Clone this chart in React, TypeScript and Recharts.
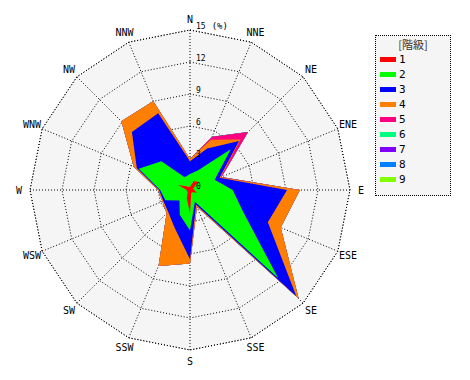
import { RadarChart, PolarGrid, PolarAngleAxis, PolarRadiusAxis, Radar, Legend } from 'recharts';

const directions = ['N', 'NNE', 'NE', 'ENE', 'E', 'ESE', 'SE', 'SSE', 'S', 'SSW', 'SW', 'WSW', 'W', 'WNW', 'NW', 'NNW'];

// frequency (%) per class, by direction
const class1 = [0.3, 0.9, 1.1, 0.3, 0.4, 0.7, 0.3, 0.3, 2.2, 0.8, 0.3, 0.3, 0.3, 1.2, 0.5, 0.3];
const class2 = [1.2, 1.1, 4.3, 2.2, 3.6, 4.7, 11.4, 0.9, 1.6, 1.7, 1.1, 2.2, 2.5, 4.0, 3.3, 1.0];
const class3 = [1.2, 2.2, 1.1, 0.5, 5.1, 2.5, 2.4, 0.3, 2.7, 1.3, 1.5, 0.2, 0.1, 0.2, 3.9, 6.5];
const class4 = [0.2, 0.9, 0.2, 0.1, 1.2, 1.3, 0.3, 0.2, 0.4, 3.9, 0.2, 0.1, 0.1, 0.3, 1.4, 1.2];
const class5 = [0, 0.3, 1.0, 0.1, 0, 0, 0, 0, 0, 0, 0, 0, 0, 0, 0, 0];
const class6 = [0, 0, 0, 0, 0, 0, 0, 0, 0, 0, 0, 0, 0, 0, 0, 0];
const class7 = [0, 0, 0, 0, 0, 0, 0, 0, 0, 0, 0, 0, 0, 0, 0, 0];
const class8 = [0, 0, 0, 0, 0, 0, 0, 0, 0, 0, 0, 0, 0, 0, 0, 0];
const class9 = [0, 0, 0, 0, 0, 0, 0, 0, 0, 0, 0, 0, 0, 0, 0, 0];

const classNames = ['1', '2', '3', '4', '5', '6', '7', '8', '9'];
const classColors = ['#ff0000', '#00ff00', '#0000ff', '#ff8000', '#ff0080', '#00ff80', '#8000ff', '#0080ff', '#80ff00'];
const radiusTicks = [0, 3, 6, 9, 12, 15];

const series = [class1, class2, class3, class4, class5, class6, class7, class8, class9];

// stacked (cumulative) values so each class sits on top of the lower ones
const data = directions.map((dir, i) => {
  const row: Record<string, string | number> = { dir };
  let sum = 0;
  series.forEach((values, k) => {
    sum += values[i];
    row[`c${k + 1}`] = Math.round(sum * 100) / 100;
  });
  return row;
});

const FONT = "'DejaVu Sans Mono', monospace";
const CJK = "'Noto Sans CJK JP', 'DejaVu Sans Mono', sans-serif";
const CX = 190;
const CY = 190;

const AngleTick = (props: any) => {
  const { x, y, payload } = props;
  const cx = props.cx ?? CX;
  const cy = props.cy ?? CY;
  const dx = x - cx;
  const dy = y - cy;
  const d = Math.sqrt(dx * dx + dy * dy) || 1;
  return (
    <text x={cx + (dx / d) * 171} y={cy + (dy / d) * 171} textAnchor="middle" dominantBaseline="central"
      fontSize={10} fontFamily={FONT} fill="#000">
      {payload.value}
    </text>
  );
};

const RadiusTick = (props: any) => {
  const { x, y, payload } = props;
  return (
    <text x={x + 6} y={y - 1} fontSize={8} fontFamily={FONT} fill="#000">
      {payload.value}
      {payload.value === 15 ? <tspan dx={6} fontSize={9}>(%)</tspan> : null}
    </text>
  );
};

const LegendBox = (props: any) => {
  const items = [...(props.payload ?? [])].sort((a: any, b: any) => Number(a.value) - Number(b.value));
  return (
    <div style={{ width: 76, height: 161, border: '1px dotted #000', background: '#f5f5f5', boxSizing: 'border-box', fontFamily: FONT }}>
      <div style={{ height: 15, marginTop: 1, lineHeight: '15px', textAlign: 'center', fontSize: 11, fontFamily: CJK, color: '#333' }}>[階級]</div>
      {items.map((item: any) => (
        <div key={item.value} style={{ height: 15, display: 'flex', alignItems: 'center', fontSize: 11 }}>
          <span style={{ width: 16, height: 5, marginLeft: 4, marginRight: 3, background: classColors[Number(item.value) - 1] }} />
          <span>{item.value}</span>
        </div>
      ))}
    </div>
  );
};

export default function App() {
  return (
    <div style={{ position: 'absolute', left: 0, top: 0, background: '#fff' }}>
      <RadarChart width={470} height={380} data={data} cx={CX} cy={CY} outerRadius={160}
        startAngle={90} endAngle={-270} margin={{ top: 0, right: 0, bottom: 0, left: 0 }}>
        <PolarGrid gridType="polygon" stroke="#000" strokeDasharray="1 2" fill="#f5f5f5" fillOpacity={1} />
        <PolarAngleAxis dataKey="dir" tick={AngleTick} axisLine={false} tickLine={false} />
        <PolarRadiusAxis angle={90} domain={[0, 15]} ticks={radiusTicks} tickCount={6} tick={RadiusTick}
          axisLine={false} tickLine={false} />
        {[...classNames].reverse().map((name) => {
          const k = Number(name);
          return (
            <Radar key={name} name={name} dataKey={`c${k}`} fill={classColors[k - 1]} fillOpacity={1}
              stroke="none" dot={false} isAnimationActive={false} />
          );
        })}
        <Legend layout="vertical" align="right" verticalAlign="top" content={LegendBox}
          wrapperStyle={{ left: 375, top: 35, width: 76 }} />
      </RadarChart>
    </div>
  );
}
